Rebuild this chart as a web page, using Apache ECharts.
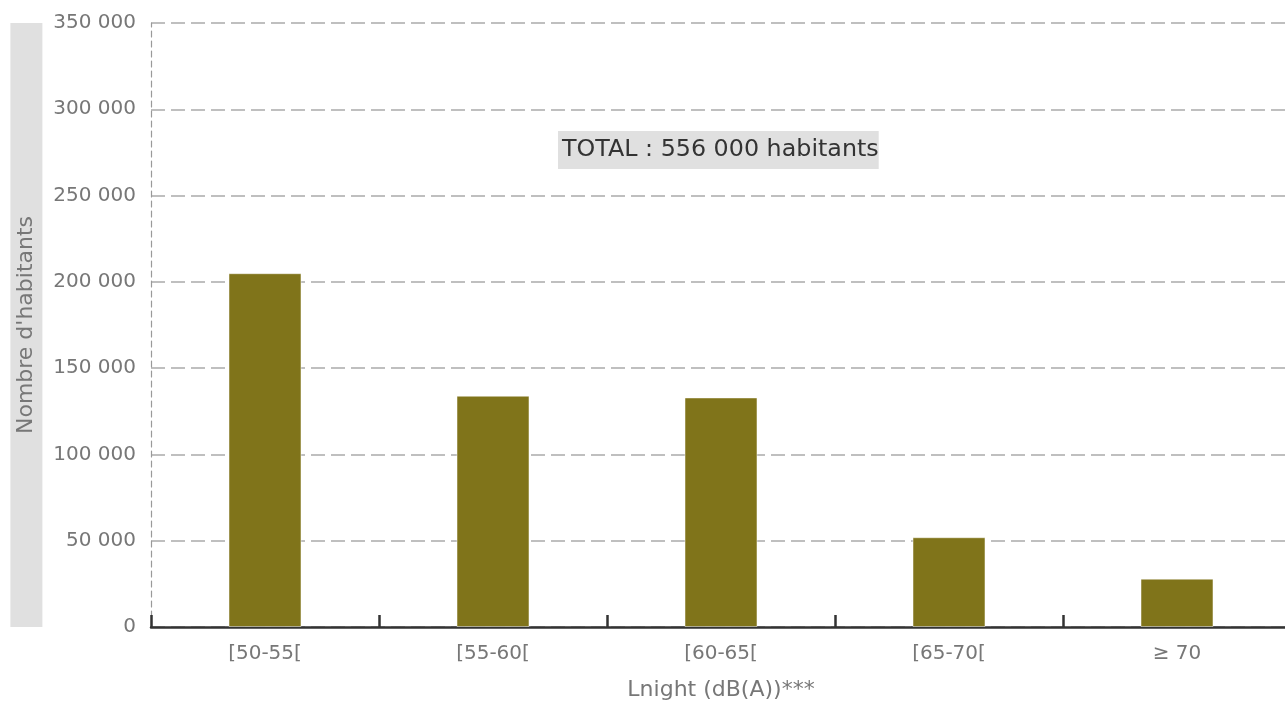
<!DOCTYPE html>
<html>
<head>
<meta charset="utf-8">
<script src="https://cdn.jsdelivr.net/npm/echarts@6/dist/echarts.min.js"></script>
<style>
html,body{margin:0;padding:0;background:#fff;}
#chart{width:1285px;height:702px;}
</style>
</head>
<body>
<div id="chart"></div>
<script>
var categories = ['[50-55[', '[55-60[', '[60-65[', '[65-70[', '≥ 70'];
var habitants = [205000, 134000, 133000, 52000, 28000];
var yTicks = { min: 0, max: 350000, interval: 50000 };
var totalLabel = 'TOTAL : 556 000 habitants';
var xAxisName = 'Lnight (dB(A))***';
var yAxisName = "Nombre d'habitants";

function fmt(v) {
  return String(v).replace(/\B(?=(\d{3})+(?!\d))/g, ' ');
}

var chart = echarts.init(document.getElementById('chart'));
chart.setOption({
  animation: false,
  textStyle: { fontFamily: 'DejaVu Sans' },
  title: {
    text: totalLabel,
    left: 558,
    top: 131,
    backgroundColor: '#e0e0e0',
    padding: [7, 0, 7, 4],
    textStyle: { fontSize: 23.8, fontWeight: 'normal', color: '#333', fontFamily: 'DejaVu Sans' }
  },
  grid: { left: 151, right: -6, top: 23, bottom: 75, containLabel: false, outerBoundsMode: 'none' },
  xAxis: {
    type: 'category',
    data: categories,
    name: xAxisName,
    nameLocation: 'middle',
    nameGap: 52,
    nameTextStyle: { fontSize: 22, color: '#777', fontFamily: 'DejaVu Sans' },
    axisLine: { show: true, lineStyle: { color: '#333', width: 2.5 } },
    axisTick: { show: true, inside: true, length: 12, lineStyle: { color: '#333', width: 2.5 } },
    axisLabel: { fontSize: 20, color: '#777', margin: 17, fontFamily: 'DejaVu Sans' },
    splitLine: { show: false }
  },
  yAxis: {
    type: 'value',
    min: yTicks.min,
    max: yTicks.max,
    interval: yTicks.interval,
    name: yAxisName,
    nameLocation: 'middle',
    nameGap: 108,
    nameTextStyle: {
      fontSize: 22, color: '#777', fontFamily: 'DejaVu Sans',
      backgroundColor: '#e0e0e0', lineHeight: 24, padding: [4, 193]
    },
    axisLine: { show: true, lineStyle: { color: '#999', width: 1.2, type: [6, 4] } },
    axisTick: { show: false },
    axisLabel: { fontSize: 20, color: '#777', margin: 15, formatter: fmt, fontFamily: 'DejaVu Sans' },
    splitLine: { show: true, lineStyle: { color: '#aaa', width: 1.5, type: [14, 6] } }
  },
  series: [{
    type: 'bar',
    data: habitants,
    barWidth: '32%',
    itemStyle: { color: '#80741a', borderColor: 'rgba(255,255,255,0.45)', borderWidth: 1 }
  }]
});
</script>
</body>
</html>
